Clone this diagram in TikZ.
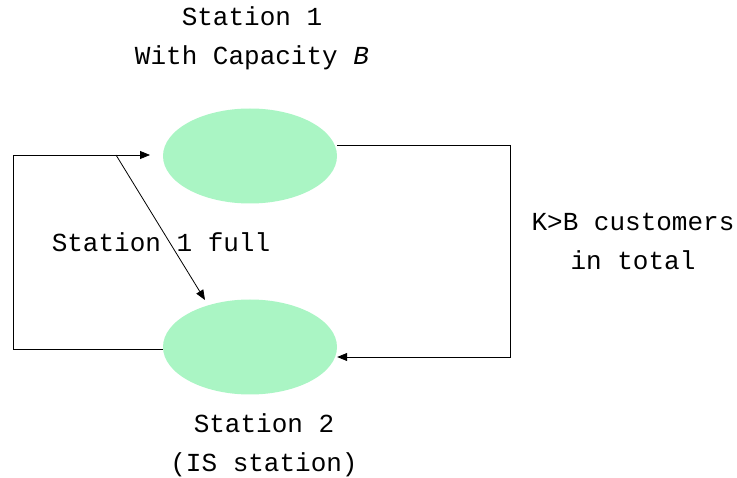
\documentclass[tikz,border=0pt]{standalone}
\usepackage{fontspec}
\setmonofont{Liberation Mono}
\usetikzlibrary{shapes.geometric,arrows.meta}
\definecolor{stgreen}{RGB}{170,245,196}
\tikzset{
  station/.style={ellipse, fill=stgreen, draw=none, minimum width=174pt, minimum height=95pt, inner sep=0pt},
  lbl/.style={font=\ttfamily\fontsize{26}{39}\selectfont, align=center, inner sep=0pt},
  conn/.style={line width=0.8pt, draw=black},
  arr/.style={conn, -{Triangle[length=10pt,width=8pt]}}
}
\begin{document}
\begin{tikzpicture}[x=1pt,y=-1pt]
\useasboundingbox (0,0) rectangle (737,478);
\node[station] (s1) at (250,156) {};
\node[station] (s2) at (250,347) {};
\node[lbl] (t1) at (252,38) {Station 1\\With Capacity \textit{B}};
\node[lbl] (t2) at (264,445) {Station 2\\(IS station)};
\node[lbl] (t3) at (633,241) {K>B customers\\in total};
\node[lbl] (t4) at (161,242) {Station 1 full};
\coordinate (lc) at (13,155);
\coordinate (a1) at (150,155);
\coordinate (j) at (116,155);
\coordinate (d) at (205,300);
\coordinate (rc) at (510,145);
\draw[conn] ([yshift=-2pt]s2.west) -| (lc);
\draw[arr] (lc) -- (a1);
\draw[arr] (j) -- (d);
\draw[conn] ([yshift=11pt]s1.east) -- (rc);
\draw[arr] (rc) |- ([yshift=-10pt]s2.east);
\end{tikzpicture}
\end{document}
